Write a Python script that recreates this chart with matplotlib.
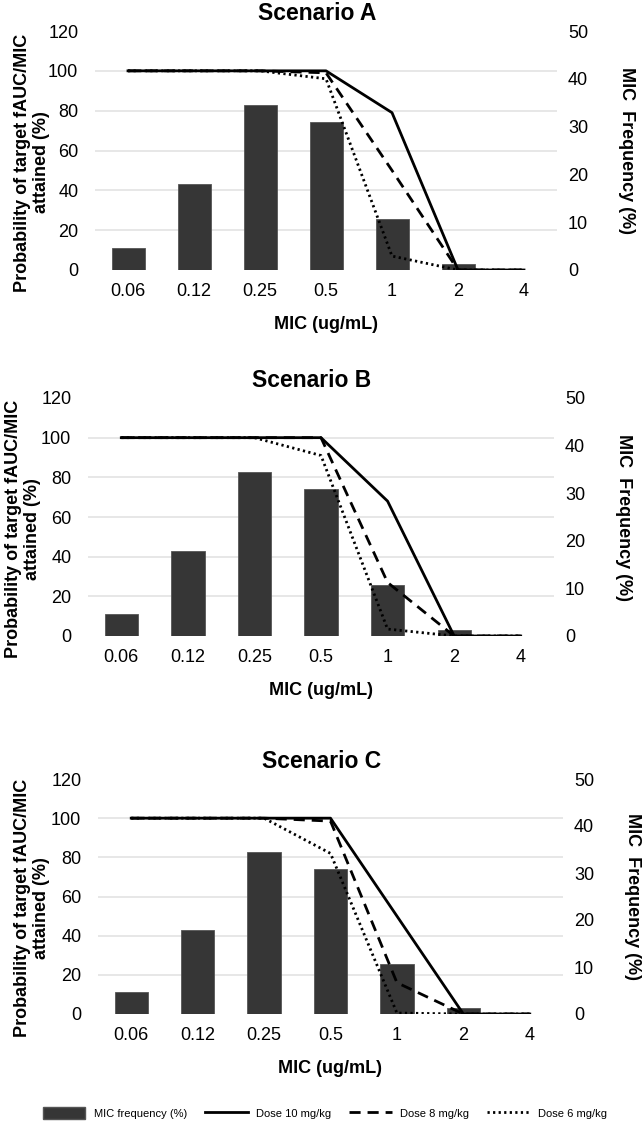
import numpy as np
import matplotlib.pyplot as plt
from matplotlib.patches import Patch
from matplotlib.lines import Line2D

plt.rcParams['font.family'] = ['Liberation Sans', 'DejaVu Sans']

# MIC categories and MIC frequency distribution (%)
mic_labels = ['0.06', '0.12', '0.25', '0.5', '1', '2', '4']
mic_freq = [4.7, 17.9, 34.5, 30.9, 10.7, 1.2, 0]

# Probability of target attainment (%) per scenario and dose
scen_a_10 = [100, 100, 100, 100, 79, 0, 0]
scen_a_8 = [100, 100, 100, 99, 50, 0, 0]
scen_a_6 = [100, 100, 100, 96, 7, 0, 0]

scen_b_10 = [100, 100, 100, 100, 68, 0, 0]
scen_b_8 = [100, 100, 100, 100, 27, 0, 0]
scen_b_6 = [100, 100, 100, 91, 3.5, 0, 0]

scen_c_10 = [100, 100, 100, 100, 50, 0, 0]
scen_c_8 = [100, 100, 100, 98.5, 16, 0, 0]
scen_c_6 = [100, 100, 100, 82, 0.5, 0, 0]

scenarios = [
    ('Scenario A', scen_a_10, scen_a_8, scen_a_6),
    ('Scenario B', scen_b_10, scen_b_8, scen_b_6),
    ('Scenario C', scen_c_10, scen_c_8, scen_c_6),
]

W, H = 644, 1123
fig = plt.figure(figsize=(W / 100, H / 100), dpi=100)

# axes boxes in pixels: left, right, top, bottom
boxes = [(95, 557, 31, 270), (88, 554, 398, 636), (98, 563, 779, 1014)]
ylab_x = [-0.098, -0.1, -0.104]

bar_color = '#363636'
dash8 = (0, (4, 2.5))
dot6 = (0, (0.8, 1.2))
x = np.arange(len(mic_labels))

for (title, d10, d8, d6), (l, r, t, b), lx in zip(scenarios, boxes, ylab_x):
    ax = fig.add_axes([l / W, 1 - b / H, (r - l) / W, (b - t) / H])
    ax2 = ax.twinx()
    ax.set_zorder(2)
    ax2.set_zorder(1)
    ax.patch.set_visible(False)

    # bars on the secondary axis
    ax2.bar(x, mic_freq, width=0.5, color=bar_color, edgecolor='#555555', linewidth=0.6, zorder=3)
    ax2.set_ylim(0, 50)
    ax2.set_yticks(range(0, 51, 10))
    # gridlines matching the left axis ticks, drawn behind bars
    ax2.set_yticks(np.linspace(0, 50, 7), minor=True)
    ax2.grid(which='minor', axis='y', color='#e3e3e3', linewidth=1.2, zorder=0)
    ax2.set_axisbelow(True)
    ax2.tick_params(axis='y', which='both', length=0, labelsize=13, pad=8)

    # dose lines on the primary axis
    ax.plot(x, d10, color='black', linewidth=2.0, linestyle='-')
    ax.plot(x, d8, color='black', linewidth=2.0, linestyle=dash8)
    ax.plot(x, d6, color='black', linewidth=2.0, linestyle=dot6)
    ax.set_ylim(0, 120)
    ax.set_yticks(range(0, 121, 20))
    ax.set_xlim(-0.5, 6.5)
    ax.set_xticks(x)
    ax.set_xticklabels(mic_labels)
    ax.tick_params(axis='both', length=0, labelsize=13)
    ax.tick_params(axis='y', pad=12)
    ax.tick_params(axis='x', pad=9)

    for a in (ax, ax2):
        for s in a.spines.values():
            s.set_visible(False)

    ax.set_title(title, fontsize=16.5, fontweight='bold', x=0.48, pad=8)
    ax.set_xlabel('MIC (ug/mL)', fontsize=13, fontweight='bold', labelpad=12)
    ax.set_ylabel('Probability of target fAUC/MIC\nattained (%)', fontsize=13,
                  fontweight='bold', linespacing=1.15)
    ax.yaxis.set_label_coords(lx, 0.45)
    ax2.set_ylabel('MIC  Frequency (%)', fontsize=13, fontweight='bold',
                   rotation=270, labelpad=34)

handles = [
    Patch(facecolor=bar_color, edgecolor='#555555', label='MIC frequency (%)'),
    Line2D([], [], color='black', linewidth=2.0, linestyle='-', label='Dose 10 mg/kg'),
    Line2D([], [], color='black', linewidth=2.0, linestyle=dash8, label='Dose 8 mg/kg'),
    Line2D([], [], color='black', linewidth=2.0, linestyle=dot6, label='Dose 6 mg/kg'),
]
fig.legend(handles=handles, loc='center', bbox_to_anchor=(0.505, 1 - 1113 / H), ncol=4,
           frameon=False, fontsize=8, handlelength=3.8, handleheight=1.4,
           columnspacing=1.6, handletextpad=0.8)

fig.savefig('out.png', dpi=100)
